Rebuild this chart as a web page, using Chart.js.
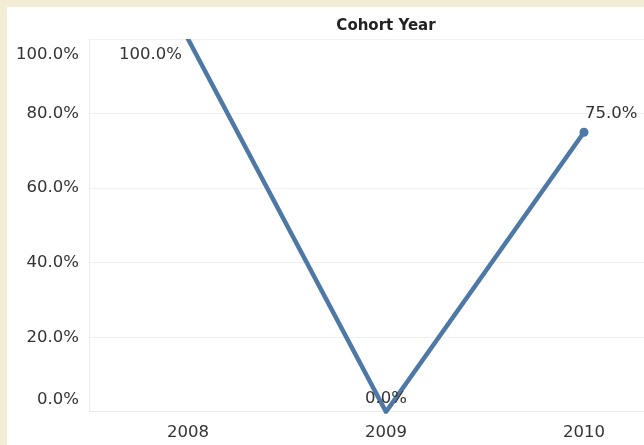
<!DOCTYPE html>
<html>
<head>
<meta charset="utf-8">
<script src="https://cdn.jsdelivr.net/npm/chart.js@4.4.0/dist/chart.umd.min.js"></script>
<style>
    html, body { margin: 0; padding: 0; }
    body { width: 644px; height: 445px; background: #f4edd6; position: relative; overflow: hidden; }
    #frame { position: absolute; left: 7px; top: 7px; width: 637px; height: 438px; background: #fff; overflow: hidden; }
    #cohortChart { display: block; }
</style>
</head>
<body>
<div id="frame"><canvas id="cohortChart" width="700" height="451"></canvas></div>
<script>
const cohortYears = ['2008', '2009', '2010'];
const retentionPct = [100.0, 0.0, 75.0];
const yTickValues = [0, 20, 40, 60, 80, 100];
const chartTitle = 'Cohort Year';

const textColor = '#333333';
const lineColor = '#4e79a7';
const fontFamily = '"DejaVu Sans", Verdana, sans-serif';

function pctLabel(v) {
    return Number(v).toFixed(1) + '%';
}

// y tick labels drawn by hand so the end ones sit inside the plot like the original
const yLabelPlugin = {
    id: 'yLabels',
    afterDraw(chart) {
        const scale = chart.scales.y;
        const area = chart.chartArea;
        const ctx = chart.ctx;
        ctx.save();
        ctx.font = '16.5px ' + fontFamily;
        ctx.fillStyle = textColor;
        ctx.textAlign = 'right';
        ctx.textBaseline = 'middle';
        scale.ticks.forEach(t => {
            let y = scale.getPixelForValue(t.value);
            y = Math.max(area.top + 16, Math.min(area.bottom - 12, y));
            ctx.fillText(pctLabel(t.value), area.left - 10, y);
        });
        ctx.restore();
    }
};

const pointLabelPlugin = {
    id: 'pointLabels',
    afterDatasetsDraw(chart) {
        const ctx = chart.ctx;
        const meta = chart.getDatasetMeta(0);
        const values = chart.data.datasets[0].data;
        const last = values.length - 1;
        ctx.save();
        ctx.font = '16.5px ' + fontFamily;
        ctx.fillStyle = textColor;
        ctx.textBaseline = 'middle';
        meta.data.forEach((pt, i) => {
            let x = pt.x, y = pt.y;
            if (i === 0) {
                ctx.textAlign = 'right';
                x -= 6; y += 16;
            } else if (i === last) {
                ctx.textAlign = 'left';
                x += 1; y -= 18;
            } else {
                ctx.textAlign = 'center';
                y -= 13;
            }
            ctx.fillText(pctLabel(values[i]), x, y);
        });
        ctx.restore();
    }
};

new Chart(document.getElementById('cohortChart'), {
    type: 'line',
    data: {
        labels: cohortYears,
        datasets: [{
            data: retentionPct,
            borderColor: lineColor,
            backgroundColor: lineColor,
            borderWidth: 4.5,
            borderJoinStyle: 'miter',
            borderCapStyle: 'round',
            pointRadius: ctx => ctx.dataIndex === retentionPct.length - 1 ? 4.5 : 0,
            pointBorderWidth: 0,
            tension: 0,
            fill: false,
            clip: { left: 10, top: 0, right: 10, bottom: 2 }
        }]
    },
    options: {
        responsive: false,
        animation: false,
        devicePixelRatio: 1,
        layout: { padding: { left: 82, right: 24, top: 0, bottom: 4 } },
        plugins: {
            legend: { display: false },
            tooltip: { enabled: false },
            title: {
                display: true,
                text: chartTitle,
                fullSize: false,
                color: '#222',
                font: { family: fontFamily, size: 15, weight: 'bold', lineHeight: 1.2 },
                padding: { top: 10, bottom: 4 }
            }
        },
        scales: {
            x: {
                offset: true,
                grid: { display: false, drawTicks: false },
                border: { display: true, color: '#ebebeb' },
                ticks: {
                    color: textColor,
                    padding: 12,
                    font: { family: fontFamily, size: 16.5, lineHeight: 1.1 }
                }
            },
            y: {
                min: 0,
                max: 100,
                afterBuildTicks: scale => {
                    scale.ticks = yTickValues.map(v => ({ value: v }));
                },
                grid: { color: '#f1f1f1', drawTicks: false },
                border: { display: true, color: '#ececec' },
                ticks: { display: false }
            }
        }
    },
    plugins: [yLabelPlugin, pointLabelPlugin]
});
</script>
</body>
</html>
